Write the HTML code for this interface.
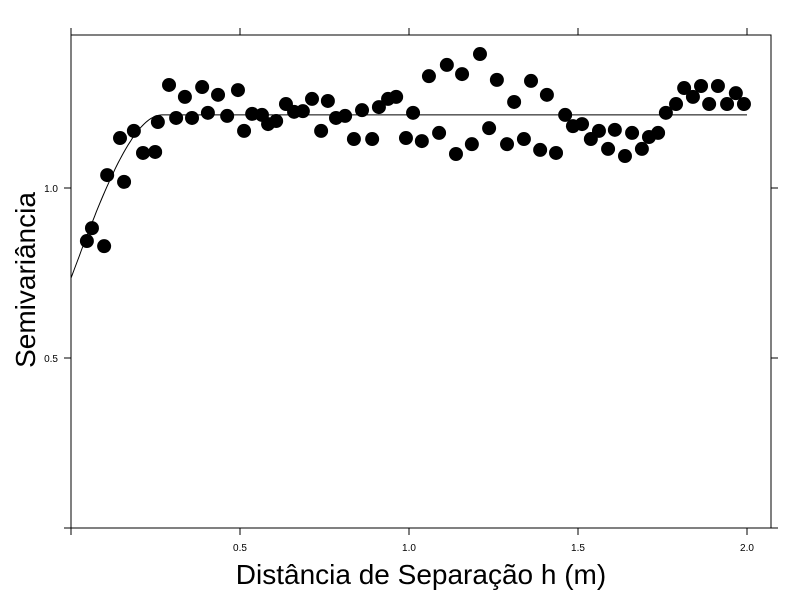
<!DOCTYPE html>
<html><head><meta charset="utf-8"><style>body{margin:0;background:#fff}svg{display:block;font-family:"Liberation Sans",sans-serif}</style></head>
<body>
<svg id="chart" width="800" height="600" viewBox="0 0 800 600"></svg>
<script>
const xs=[0.047,0.062,0.098,0.107,0.145,0.157,0.186,0.213,0.249,0.257,0.290,0.311,0.337,0.358,0.388,0.405,0.435,0.462,0.494,0.512,0.536,0.565,0.583,0.607,0.636,0.660,0.686,0.713,0.740,0.760,0.784,0.811,0.837,0.861,0.891,0.911,0.938,0.962,0.991,1.012,1.038,1.059,1.089,1.112,1.139,1.157,1.186,1.210,1.237,1.260,1.290,1.311,1.340,1.361,1.388,1.408,1.435,1.462,1.485,1.512,1.538,1.562,1.589,1.609,1.639,1.660,1.689,1.710,1.737,1.760,1.790,1.814,1.840,1.864,1.888,1.914,1.941,1.967,1.991];
const ys=[0.844,0.882,0.829,1.038,1.147,1.018,1.168,1.103,1.106,1.194,1.303,1.206,1.268,1.206,1.297,1.221,1.274,1.212,1.288,1.168,1.218,1.215,1.188,1.197,1.247,1.224,1.226,1.262,1.168,1.256,1.206,1.212,1.144,1.229,1.144,1.238,1.262,1.268,1.147,1.221,1.138,1.329,1.162,1.362,1.100,1.335,1.129,1.394,1.176,1.318,1.129,1.253,1.144,1.315,1.112,1.274,1.103,1.215,1.182,1.188,1.144,1.168,1.115,1.171,1.094,1.162,1.115,1.150,1.162,1.221,1.247,1.294,1.268,1.300,1.247,1.300,1.247,1.279,1.247];
const xTicks=[0,0.5,1.0,1.5,2.0];
const xTickLabels=["","0.5","1.0","1.5","2.0"];
const yTicks=[0,0.5,1.0];
const yTickLabels=["","0.5","1.0"];
const nugget=0.735, sill=1.215, range=0.27, xMax=2.0;

const L=71,R=771,T=35,B=528;
const sx=v=>71+v*338, sy=v=>528-v*340;
const svg=document.getElementById('chart');
const NS='http://www.w3.org/2000/svg';
function mk(t,a,p){const e=document.createElementNS(NS,t);for(const k in a)e.setAttribute(k,a[k]);(p||svg).appendChild(e);return e;}
const frame=mk('rect',{x:L,y:T,width:R-L,height:B-T,fill:'none',stroke:'#000','stroke-width':1});


xTicks.forEach((v,i)=>{
  const x=sx(v);
  const t1=mk('line',{x1:x,y1:B,x2:x,y2:B+7,stroke:'#000'});
  
  
  const t2=mk('line',{x1:x,y1:T,x2:x,y2:T-7,stroke:'#000'});
  
  
  if(xTickLabels[i]){const tx=mk('text',{x:x,y:B+23,'font-size':10,'text-anchor':'middle'});tx.textContent=xTickLabels[i];
  
  }
});
yTicks.forEach((v,i)=>{
  const y=sy(v);
  const t1=mk('line',{x1:L,y1:y,x2:L-7,y2:y,stroke:'#000'});
  
  
  const t2=mk('line',{x1:R,y1:y,x2:R+7,y2:y,stroke:'#000'});
  
  
  if(yTickLabels[i]){const tx=mk('text',{x:L-13,y:y+4,'font-size':10,'text-anchor':'end'});tx.textContent=yTickLabels[i];
  
  }
});
let d='';
for(let i=0;i<=400;i++){const h=xMax*i/400;const r=h/range;const g=h<range?nugget+(sill-nugget)*(1.5*r-0.5*r*r*r):sill;d+=(i?'L':'M')+sx(h).toFixed(1)+','+sy(g).toFixed(1);}
const ln=mk('path',{d:d,fill:'none',stroke:'#000','stroke-width':1});


xs.forEach((v,i)=>{
  const c=mk('circle',{cx:sx(v),cy:sy(ys[i]),r:7,fill:'#000'});
  
  
});
const xt=mk('text',{x:421,y:584,'font-size':28,'text-anchor':'middle'});xt.textContent='Distância de Separação h (m)';


const yt=mk('text',{x:0,y:0,'font-size':28,'text-anchor':'middle',transform:'translate(35,280) rotate(-90)'});yt.textContent='Semivariância';


</script>
</body></html>
